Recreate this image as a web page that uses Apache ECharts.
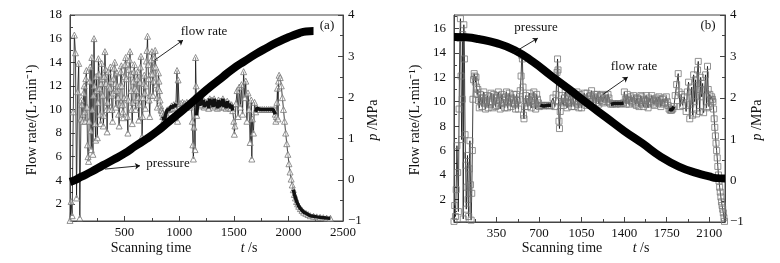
<!DOCTYPE html>
<html>
<head>
<meta charset="utf-8">
<script src="https://cdn.jsdelivr.net/npm/echarts@6/dist/echarts.min.js"></script>
<style>
  html, body { margin: 0; padding: 0; background: #fff; }
  #chart { width: 780px; height: 263px; }
</style>
</head>
<body>
<div id="chart"></div>
<script>
// ---- panel (a): flow rate (L/min) vs time, pressure (MPa) vs time
var flowA = [
  [0,0.6],[10,2.2],[20,1.0],[30,9.8],[40,16.3],[50,14.8],[60,2.5],[70,11.5],[80,13.9],[90,0.8],
  [100,9.2],[105,10.8],[110,10.4],[115,9.0],[120,9.6],[125,11.4],[130,12.0],[135,9.8],[140,9.0],[145,12.6],
  [150,13.3],[155,10.2],[160,7.0],[165,6.0],[170,5.6],[175,9.0],[180,12.4],[185,13.6],[190,8.2],[195,6.6],
  [200,14.4],[205,10.0],[210,6.2],[215,11.2],[220,16.0],[225,12.0],[230,8.8],[235,7.4],[240,12.8],[245,11.6],
  [250,7.6],[255,10.6],[260,14.3],[265,13.0],[270,11.8],[275,9.6],[280,8.8],[285,12.2],[290,13.9],[295,12.6],
  [300,11.2],[305,8.6],[310,9.5],[315,12.8],[320,14.9],[325,13.4],[330,12.2],[335,10.0],[340,8.1],[345,10.6],
  [350,13.2],[355,12.0],[360,10.0],[365,11.8],[370,13.6],[375,12.4],[380,11.2],[385,10.0],[390,9.0],[395,11.4],
  [400,12.6],[405,13.5],[410,14.0],[415,12.2],[420,10.2],[425,11.6],[430,13.1],[435,12.0],[440,11.0],[445,9.6],
  [450,8.6],[455,10.4],[460,12.0],[465,13.2],[470,13.7],[475,12.0],[480,10.4],[485,9.8],[490,9.3],[495,11.0],
  [500,12.8],[505,13.8],[510,14.4],[515,12.6],[520,11.0],[525,9.4],[530,8.0],[535,10.8],[540,13.4],[545,14.2],
  [550,14.9],[555,13.0],[560,11.6],[565,10.0],[570,8.8],[575,10.6],[580,12.4],[585,13.2],[590,13.8],[595,11.8],
  [600,10.0],[605,10.8],[610,11.6],[615,12.6],[620,13.2],[625,11.0],[630,9.1],[635,10.4],[640,12.3],[645,13.6],
  [650,14.5],[655,11.0],[660,7.7],[665,9.4],[670,11.0],[675,12.2],[680,12.9],[685,11.4],[690,10.1],[695,12.0],
  [700,14.1],[705,15.0],[710,16.2],[715,13.8],[720,12.6],[725,10.8],[730,9.4],[735,11.2],[740,13.0],[745,14.2],
  [750,14.9],[755,13.0],[760,11.2],[765,12.4],[770,13.6],[775,14.4],[780,15.0],[785,13.6],[790,12.1],[795,11.0],
  [800,10.2],[805,11.8],[810,13.1],[815,12.4],[820,11.6],[825,10.8],[830,10.3],[835,10.0],[840,9.9],[845,9.7],
  [850,9.4],[860,9.1],[870,9.3],[880,9.7],[890,9.95],[900,10.0],[910,10.0],[920,10.1],[930,10.3],[940,10.1],
  [950,10.4],[960,10.2],[970,10.5],[980,13.3],[985,9.0],[990,12.5],[1000,10.3],[1010,10.5],[1020,10.2],[1030,10.6],
  [1040,10.3],[1050,10.5],[1060,10.2],[1070,10.6],[1080,10.3],[1090,10.5],[1100,10.2],[1110,10.4],
  [1120,9.0],[1125,7.0],[1130,5.8],[1135,8.5],[1140,11.0],[1145,6.6],[1150,14.4],[1155,12.0],[1160,9.5],
  [1170,10.6],[1180,11.0],[1190,10.3],[1200,11.2],[1210,10.4],[1220,10.8],[1230,10.2],[1240,10.6],[1250,10.3],
  [1260,10.7],[1270,10.1],[1280,10.9],[1290,10.4],[1300,10.8],[1310,10.2],[1320,10.9],[1330,10.3],[1340,10.6],
  [1350,10.1],[1360,10.8],[1370,10.2],[1380,10.7],[1390,10.3],[1400,10.9],[1410,10.2],[1420,10.6],[1430,10.1],
  [1440,10.7],[1450,10.2],[1460,10.5],[1470,10.1],[1480,10.4],[1490,9.9],
  [1500,9.0],[1505,7.9],[1510,8.6],[1520,10.5],[1530,11.6],[1540,9.4],[1550,11.9],[1560,10.2],[1570,12.1],
  [1580,9.6],[1590,13.2],[1600,11.0],[1610,12.4],[1620,9.0],[1630,11.4],[1640,10.0],[1650,7.2],[1660,10.8],
  [1665,5.8],[1670,9.2],[1680,8.0],[1690,10.6],
  [1700,9.8],[1710,10.1],[1720,10.0],[1740,10.0],[1760,10.0],[1780,10.0],[1800,10.0],[1820,10.0],[1840,10.0],
  [1860,10.0],[1875,10.0],[1880,9.6],[1885,9.0],[1890,9.4],[1895,10.6],[1900,11.8],[1905,9.2],[1910,12.4],
  [1915,12.9],[1925,12.7],[1935,12.0],[1945,11.0],[1955,10.0],[1965,9.0],[1975,8.0],[1985,7.1],[1995,6.2],
  [2005,5.4],[2015,4.7],[2025,4.1],[2035,3.6],[2045,3.2],[2055,2.8],[2065,2.5],[2075,2.2],[2085,2.0],
  [2095,1.8],[2110,1.6],[2125,1.45],[2140,1.3],[2160,1.2],[2180,1.1],[2200,1.0],[2230,0.95],[2260,0.9],
  [2290,0.86],[2320,0.83],[2350,0.8],[2385,0.78]
];
var pressureA = [
  [0,-0.05],[50,0.0],[100,0.07],[200,0.2],[300,0.35],[400,0.49],[500,0.64],[600,0.82],[700,0.99],
  [800,1.18],[900,1.4],[1000,1.62],[1100,1.84],[1200,2.07],[1300,2.29],[1400,2.5],[1500,2.71],[1600,2.88],
  [1700,3.05],[1800,3.2],[1900,3.34],[2000,3.46],[2100,3.56],[2160,3.6],[2230,3.61]
];
// time spans where the dense markers merge into a dark band
var denseA = [[850, 975], [1160, 1495], [1700, 1880], [2040, 2385]];

// ---- panel (b)
var flowB = [
  [0,0.2],[6,1.5],[12,0.6],[18,2.8],[24,6.4],[30,4.2],[36,1.0],[42,9.4],[48,15.2],[53,16.8],
  [58,12.1],[63,6.9],[68,10.2],[72,15.5],[76,0.4],[81,16.3],[86,13.5],[91,7.3],[96,4.8],[101,1.2],
  [106,3.0],[111,5.6],[116,2.0],[121,0.6],[126,4.5],[131,6.8],[136,3.2],[141,0.3],[146,2.5],[151,6.0],
  [156,10.2],[161,11.8],[166,12.3],[171,12.1],[176,11.6],[181,12.0],[186,11.2],[191,10.6],[196,11.0],
  [201,10.1],[208,9.5],[215,10.6],[222,10.0],[230,9.6],[237,10.3],[245,10.8],[252,9.9],[260,9.4],[267,10.1],
  [275,10.5],[282,9.5],[290,9.8],[297,10.4],[305,10.7],[312,10.0],[320,9.5],[327,10.6],[335,10.3],[342,9.6],
  [350,9.7],[357,10.5],[365,10.8],[372,10.1],[380,9.4],[387,9.9],[395,10.6],[402,10.2],[410,9.9],[417,9.5],
  [425,10.4],[432,10.8],[440,9.5],[447,10.0],[455,10.7],[462,10.3],[470,9.6],[477,9.9],[485,10.2],[492,10.6],
  [500,9.8],[507,9.4],[515,10.6],[522,10.1],[530,9.4],[537,10.2],[545,10.9],
  [552,12.1],[558,13.8],[563,13.5],[568,11.2],[572,8.9],[576,8.6],[582,9.6],
  [590,10.5],[597,9.9],[605,9.6],[612,10.2],[620,10.7],[627,10.0],[635,9.5],[642,10.1],[650,10.4],[657,10.8],
  [665,9.8],[672,9.4],[680,10.6],[687,10.2],[695,9.9],[702,9.6],
  [710,9.7],[725,9.7],[740,9.65],[755,9.7],[770,9.7],[785,9.65],[800,9.7],[815,10.3],[830,9.6],[840,10.6],
  [848,12.4],[852,13.5],[856,12.6],[860,10.0],[864,8.4],[868,7.8],[874,9.2],
  [885,10.5],[892,9.9],[900,9.7],[907,10.3],[915,10.8],[922,10.0],[930,9.5],[937,9.9],[945,10.4],[952,10.7],
  [960,9.9],[967,9.6],[975,10.7],[982,10.2],[990,9.6],[997,10.0],[1005,10.5],[1012,10.8],[1020,9.8],[1027,9.5],
  [1035,10.6],[1042,10.1],[1050,9.5],[1057,10.0],[1065,10.3],[1072,10.7],[1080,10.1],[1087,9.7],[1095,10.7],[1102,10.3],
  [1110,9.8],[1117,10.2],[1125,10.5],[1132,10.9],[1140,10.0],[1147,9.7],[1155,10.6],[1162,10.3],[1170,9.9],[1177,10.6],
  [1185,10.4],[1192,9.8],[1200,10.1],[1207,10.5],[1215,10.6],[1222,10.0],[1230,9.9],[1237,10.3],[1245,10.5],[1252,10.2],
  [1260,10.0],[1267,10.6],[1275,10.3],[1282,9.9],
  [1290,9.8],[1305,9.8],[1320,9.85],[1335,9.8],[1350,9.85],[1365,9.8],[1380,9.85],[1395,9.9],[1402,10.8],
  [1410,10.2],[1417,9.8],[1425,10.6],[1432,10.2],[1440,9.8],[1447,10.1],[1455,10.4],[1462,10.0],[1470,9.9],[1477,10.5],
  [1485,10.3],[1492,9.8],[1500,9.7],[1507,10.3],[1515,10.2],[1522,9.6],[1530,9.9],[1537,10.5],[1545,10.4],[1552,9.8],
  [1560,9.6],[1567,10.2],[1575,10.1],[1582,10.5],[1590,9.8],[1597,9.5],[1605,10.3],[1612,10.0],[1620,9.9],[1627,10.5],
  [1635,10.2],[1642,9.8],[1650,9.7],[1657,10.1],[1665,10.3],[1672,10.0],[1680,9.9],[1687,10.4],[1695,10.2],[1702,9.6],
  [1710,9.8],[1717,10.2],[1725,10.3],[1732,9.9],[1740,9.9],[1747,10.4],[1755,10.0],[1762,9.7],
  [1770,9.4],[1780,9.3],[1790,9.3],[1800,9.4],[1810,9.6],
  [1820,10.5],[1832,11.4],[1845,12.3],[1852,10.8],[1860,9.6],[1870,10.6],[1880,9.7],[1895,10.4],[1910,9.2],[1920,10.8],
  [1930,11.6],[1940,8.6],[1948,9.8],[1956,11.2],[1964,8.9],[1972,12.2],[1980,10.0],[1988,11.8],[1996,9.0],[2004,12.6],
  [2010,13.3],[2016,11.0],[2022,9.2],[2030,12.0],[2038,10.4],[2046,11.5],[2054,9.1],[2062,10.9],[2070,12.2],[2078,9.5],
  [2086,12.9],[2092,11.0],[2098,9.6],[2105,10.6],[2112,10.2],[2120,10.4],[2126,10.2],[2131,10.0],[2136,9.4],[2141,8.6],
  [2146,7.9],[2151,7.2],[2156,6.6],[2161,6.0],[2166,5.4],[2171,4.7],[2176,4.0],[2181,3.5],[2186,3.0],[2191,2.6],
  [2196,2.2],[2201,1.8],[2206,1.5],[2211,1.2],[2216,0.9],[2221,0.5],[2226,0.2]
];
var pressureB = [
  [0,3.47],[100,3.46],[200,3.42],[350,3.32],[500,3.15],[650,2.87],[800,2.53],[950,2.2],[1100,1.86],
  [1250,1.53],[1400,1.2],[1550,0.9],[1700,0.58],[1850,0.34],[2000,0.18],[2100,0.1],[2160,0.06],[2230,0.05]
];
var denseB = [[705, 805], [1288, 1398], [1768, 1812]];

// ---- tick values
var tickXA = [500, 1000, 1500, 2000, 2500];
var minorXA = [250, 750, 1250, 1750, 2250];
var tickXB = [350, 700, 1050, 1400, 1750, 2100];
var minorXB = [175, 525, 875, 1225, 1575, 1925];
var tickFlowA = [2, 4, 6, 8, 10, 12, 14, 16, 18];
var tickFlowB = [2, 4, 6, 8, 10, 12, 14, 16];
var minorFlow = [1, 3, 5, 7, 9, 11, 13, 15, 17];
var tickP = [-1, 0, 1, 2, 3, 4];
var minorP = [-0.5, 0.5, 1.5, 2.5, 3.5];

var serif = 'Liberation Serif';
var ink = '#111';
var frame = '#444';

function majorAxis(grid, pos, min, max, ticks) {
  return {
    type: 'value', gridIndex: grid, position: pos, min: min, max: max,
    axisLine: { show: true, onZero: false, lineStyle: { color: frame, width: 1 } },
    axisTick: { show: true, inside: true, length: 5, customValues: ticks, lineStyle: { color: frame } },
    axisLabel: {
      customValues: ticks, fontFamily: serif, fontSize: 13, color: ink,
      margin: pos === 'left' ? 8 : 5,
      formatter: function (v) { return String(v).replace('-', '\u2212') }
    },
    splitLine: { show: false }
  }
}
function minorAxis(grid, pos, min, max, ticks) {
  return {
    type: 'value', gridIndex: grid, position: pos, min: min, max: max,
    axisLine: { show: false, onZero: false },
    axisTick: { show: true, inside: true, length: 3, customValues: ticks, lineStyle: { color: frame } },
    axisLabel: { show: false },
    splitLine: { show: false }
  }
}

function band(data, spans) {
  return data.map(function (p) {
    var inside = spans.some(function (s) { return p[0] >= s[0] && p[0] <= s[1] })
    return [p[0], inside ? p[1] : '-']
  })
}

function flowSeries(data, xi, yi, symbol, size, fill) {
  return {
    type: 'line', xAxisIndex: xi, yAxisIndex: yi, data: data,
    symbol: symbol, symbolSize: size, showAllSymbol: true,
    itemStyle: { color: fill, borderColor: '#777', borderWidth: 0.8 },
    lineStyle: { color: ink, width: 0.8 },
    z: 2, animation: false
  }
}
function bandSeries(data, xi, yi) {
  return {
    type: 'line', xAxisIndex: xi, yAxisIndex: yi, data: data,
    symbol: 'none', connectNulls: false,
    lineStyle: { color: ink, width: 3.5 },
    z: 3, animation: false
  }
}
function pressureSeries(data, xi, yi, arrows) {
  return {
    type: 'line', xAxisIndex: xi, yAxisIndex: yi, data: data,
    symbol: 'none', smooth: true,
    lineStyle: { color: '#000', width: 8, cap: 'butt' },
    z: 4, animation: false,
    markLine: {
      silent: true, animation: false,
      symbol: ['none', 'arrow'], symbolSize: 5,
      lineStyle: { color: ink, width: 0.9, type: 'solid' },
      label: { show: false },
      data: arrows.map(function (a) { return [{ coord: a[0] }, { coord: a[1] }] })
    }
  }
}

function label(x, y, text, size, rot) {
  return {
    type: 'text', x: x, y: y, rotation: rot || 0,
    style: {
      text: text, fontFamily: serif, fontSize: size, fill: ink,
      align: 'center', verticalAlign: 'middle',
      rich: { i: { fontFamily: serif, fontSize: size, fontStyle: 'italic', fill: ink } }
    }
  }
}

var chart = echarts.init(document.getElementById('chart'))
chart.setOption({
  backgroundColor: '#fff',
  animation: false,
  grid: [
    { left: 70, right: 437, top: 15, bottom: 42, show: true, borderColor: frame, borderWidth: 1 },
    { left: 454, right: 55, top: 15, bottom: 41, show: true, borderColor: frame, borderWidth: 1 }
  ],
  xAxis: [
    majorAxis(0, 'bottom', 0, 2500, tickXA),
    minorAxis(0, 'bottom', 0, 2500, minorXA),
    majorAxis(1, 'bottom', 0, 2230, tickXB),
    minorAxis(1, 'bottom', 0, 2230, minorXB)
  ],
  yAxis: [
    majorAxis(0, 'left', 0.55, 18, tickFlowA),
    majorAxis(0, 'right', -1, 4, tickP),
    minorAxis(0, 'left', 0.55, 18, minorFlow),
    minorAxis(0, 'right', -1, 4, minorP),
    majorAxis(1, 'left', 0.15, 17.1, tickFlowB),
    majorAxis(1, 'right', -1, 4, tickP),
    minorAxis(1, 'left', 0.15, 17.1, minorFlow),
    minorAxis(1, 'right', -1, 4, minorP)
  ],
  series: [
    flowSeries(flowA, 0, 0, 'triangle', 6, 'rgba(255,255,255,0.5)'),
    bandSeries(band(flowA, denseA), 0, 0),
    pressureSeries(pressureA, 0, 1, [[[320, 0.26], [641, 0.34]], [[778, 2.91], [1035, 3.39]]]),
    flowSeries(flowB, 2, 4, 'rect', 6, 'rgba(255,255,255,0)'),
    bandSeries(band(flowB, denseB), 2, 4),
    pressureSeries(pressureB, 2, 5, [[[484, 3.08], [690, 3.44]], [[1225, 2.08], [1430, 2.5]]])
  ],
  graphic: [
    label(327, 26, '(a)', 13),
    label(204, 32, 'flow rate', 13),
    label(168, 164, 'pressure', 13),
    label(32, 120, 'Flow rate/(L\u00b7min\u207b\u00b9)', 14, Math.PI / 2),
    label(373, 120, '{i|p} /MPa', 14, Math.PI / 2),
    label(151, 248, 'Scanning time', 14),
    label(249, 248, '{i|t} /s', 14),
    label(708, 26, '(b)', 13),
    label(536, 28, 'pressure', 13),
    label(634, 67, 'flow rate', 13),
    label(415, 120, 'Flow rate/(L\u00b7min\u207b\u00b9)', 14, Math.PI / 2),
    label(757, 120, '{i|p} /MPa', 14, Math.PI / 2),
    label(562, 248, 'Scanning time', 14),
    label(641, 248, '{i|t} /s', 14)
  ]
})
</script>
</body>
</html>
